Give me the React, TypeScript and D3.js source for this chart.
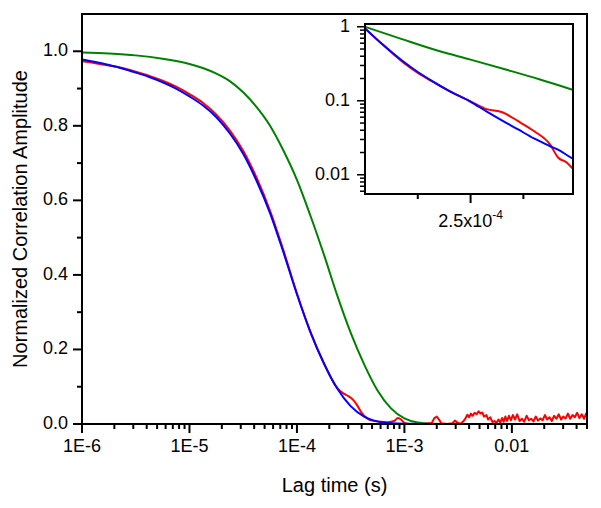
import React from "react";
import * as d3 from "d3";

// ---- Main plot data (lag time in s, normalized amplitude) ----
const blueT = [1e-6, 1.33e-6, 1.78e-6, 2.37e-6, 3.16e-6, 4.22e-6, 5.62e-6, 7.5e-6, 1e-5, 1.33e-5, 1.78e-5, 2.37e-5, 3.16e-5, 4.22e-5, 5.62e-5, 7.5e-5, 1e-4, 1.33e-4, 1.78e-4, 2.37e-4, 3.16e-4, 4.22e-4, 5.62e-4, 7.5e-4, 1e-3, 1.78e-3, 0.05];
const blueV = [0.978, 0.971, 0.963, 0.954, 0.943, 0.931, 0.917, 0.9, 0.879, 0.855, 0.823, 0.78, 0.725, 0.652, 0.566, 0.46, 0.348, 0.248, 0.163, 0.095, 0.048, 0.02, 0.007, 0.002, 0.0005, 0, 0];

const greenT = [1e-6, 1.78e-6, 3.16e-6, 5.62e-6, 1e-5, 1.33e-5, 1.78e-5, 2.37e-5, 3.16e-5, 4.22e-5, 5.62e-5, 7.5e-5, 1e-4, 1.33e-4, 1.78e-4, 2.37e-4, 3.16e-4, 4.22e-4, 5.62e-4, 7.5e-4, 1e-3, 1.33e-3, 1.78e-3, 3.16e-3, 0.05];
const greenV = [0.997, 0.994, 0.989, 0.98, 0.966, 0.955, 0.94, 0.92, 0.89, 0.85, 0.8, 0.733, 0.655, 0.56, 0.455, 0.345, 0.245, 0.16, 0.09, 0.042, 0.015, 0.004, 0.001, 0, 0];

const redT = [
  1e-6, 1.33e-6, 1.78e-6, 2.37e-6, 3.16e-6, 4.22e-6, 5.62e-6, 7.5e-6, 1e-5, 1.33e-5, 1.78e-5, 2.37e-5, 3.16e-5, 4.22e-5, 5.62e-5, 7.5e-5, 1e-4, 1.33e-4, 1.78e-4, 2.37e-4,
  2.7e-4, 3.0e-4, 3.3e-4, 3.6e-4, 4.0e-4, 4.5e-4, 5e-4, 6e-4, 7e-4, 8e-4, 8.7e-4, 9.3e-4, 1.0e-3, 1.1e-3,
  1.2e-3, 1.5e-3, 1.8e-3, 1.9e-3, 2.0e-3, 2.1e-3, 2.2e-3, 2.5e-3, 2.8e-3, 2.95e-3, 3.1e-3, 3.3e-3, 3.5e-3, 3.7e-3, 3.85e-3, 4.0e-3, 4.15e-3, 4.3e-3,
  4.5e-3, 4.7e-3, 4.9e-3, 5.1e-3, 5.3e-3, 5.5e-3, 5.8e-3, 6.0e-3, 6.3e-3, 6.6e-3, 6.9e-3, 7.2e-3, 7.5e-3, 7.8e-3, 8.1e-3, 8.4e-3, 8.7e-3,
  9.0e-3, 9.4e-3, 9.8e-3, 0.0102, 0.0107, 0.0112, 0.0118, 0.0124, 0.013, 0.0137, 0.0144, 0.0151, 0.0159, 0.0167, 0.0175, 0.0184, 0.0193,
  0.0203, 0.0213, 0.0224, 0.0235, 0.0247, 0.026, 0.0273, 0.0287, 0.0301, 0.0316, 0.0332, 0.0349, 0.0367, 0.0385, 0.0405, 0.0425, 0.0447, 0.047, 0.049, 0.05,
];
const redV = [
  0.973, 0.968, 0.962, 0.955, 0.945, 0.934, 0.921, 0.905, 0.885, 0.862, 0.83, 0.788, 0.733, 0.66, 0.572, 0.465, 0.35, 0.248, 0.163, 0.097,
  0.082, 0.075, 0.066, 0.052, 0.03, 0.015, 0.009, 0.006, 0.005, 0.008, 0.016, 0.012, 0.003, 0.0,
  0.0, 0.0, 0.003, 0.016, 0.02, 0.012, 0.002, 0.0, 0.002, 0.009, 0.004, 0.0, 0.006, 0.015, 0.025, 0.018, 0.028, 0.022,
  0.03, 0.026, 0.034, 0.028, 0.031, 0.02, 0.024, 0.012, 0.018, 0.005, 0.008, 0.003, 0.012, 0.004, 0.016, 0.006, 0.02,
  0.008, 0.022, 0.01, 0.024, 0.012, 0.026, 0.008, 0.014, 0.006, 0.022, 0.01, 0.014, 0.007, 0.02, 0.009, 0.015, 0.01,
  0.024, 0.012, 0.018, 0.008, 0.022, 0.014, 0.026, 0.012, 0.02, 0.015, 0.028, 0.014, 0.024, 0.018, 0.03, 0.016, 0.026, 0.014, 0.028, 0.02,
];
const redSmoothEnd = 1.1e-3; // beyond this the measured trace is noisy

// ---- Inset data (semi-log) ----
const insetBlueT = [1.5e-4, 1.67e-4, 1.85e-4, 2.0e-4, 2.15e-4, 2.3e-4, 2.5e-4, 2.65e-4, 2.8e-4, 2.95e-4, 3.1e-4, 3.25e-4, 3.35e-4, 3.41e-4, 3.465e-4];
const insetBlueV = [0.95, 0.57, 0.35, 0.245, 0.18, 0.135, 0.097, 0.072, 0.054, 0.041, 0.031, 0.0245, 0.021, 0.0185, 0.0166];
const insetRedT = [1.5e-4, 1.67e-4, 1.85e-4, 2.0e-4, 2.15e-4, 2.3e-4, 2.5e-4, 2.65e-4, 2.8e-4, 2.95e-4, 3.1e-4, 3.25e-4, 3.33e-4, 3.41e-4, 3.465e-4];
const insetRedV = [0.95, 0.57, 0.34, 0.238, 0.178, 0.135, 0.098, 0.077, 0.07, 0.053, 0.039, 0.026, 0.017, 0.0147, 0.0122];
const insetGreenT = [1.5e-4, 1.85e-4, 2.2e-4, 2.5e-4, 2.85e-4, 3.15e-4, 3.465e-4];
const insetGreenV = [1.0, 0.68, 0.47, 0.36, 0.26, 0.195, 0.141];

// ---- Ticks / labels ----
const xMajorTicks = [1e-6, 1e-5, 1e-4, 1e-3, 1e-2];
const xTickLabels = ["1E-6", "1E-5", "1E-4", "1E-3", "0.01"];
const yMajorTicks = [0, 0.2, 0.4, 0.6, 0.8, 1.0];
const yTickLabels = ["0.0", "0.2", "0.4", "0.6", "0.8", "1.0"];
const yMinorTicks = [0.1, 0.3, 0.5, 0.7, 0.9];
const insetYMajor = [1, 0.1, 0.01];
const insetYLabels = ["1", "0.1", "0.01"];
const insetXMajor = [2.5e-4];
const insetXMinor = [2.0e-4, 3.0e-4];

const FONT = "'Liberation Sans', Arial, sans-serif";

export default function App() {
  const x = d3.scaleLog().domain([1e-6, 0.05]).range([82, 587]);
  const y = d3.scaleLinear().domain([0, 1.1]).range([424, 14]);

  const xi = d3.scaleLinear().domain([1.5e-4, 3.47e-4]).range([365, 573]);
  const yi = d3.scaleLog().domain([0.0055, 1.09]).range([194, 24]);

  const xMinor: number[] = [];
  for (let e = -6; e <= -2; e++) {
    for (let k = 2; k <= 9; k++) {
      const v = k * Math.pow(10, e);
      if (v <= 0.05 + 1e-12) xMinor.push(v);
    }
  }
  const yiMinor: number[] = [];
  for (let e = -3; e <= -1; e++) {
    for (let k = 2; k <= 9; k++) {
      const v = k * Math.pow(10, e);
      if (v >= 0.0055 && v <= 1.09) yiMinor.push(v);
    }
  }

  const mk = (T: number[], V: number[]) => T.map((t, i) => [t, V[i]] as [number, number]);
  const mainLine = d3
    .line<[number, number]>()
    .x((d) => x(d[0]))
    .y((d) => y(d[1]))
    .curve(d3.curveMonotoneX);
  const mainLinear = d3
    .line<[number, number]>()
    .x((d) => x(d[0]))
    .y((d) => y(d[1]));
  const insetLine = d3
    .line<[number, number]>()
    .x((d) => xi(d[0]))
    .y((d) => yi(d[1]))
    .curve(d3.curveMonotoneX);

  const redAll = mk(redT, redV);
  const redSmooth = redAll.filter((d) => d[0] <= redSmoothEnd);
  const redNoise = redAll.filter((d) => d[0] >= redSmoothEnd);

  return (
    <svg
      width={601}
      height={508}
      style={{ position: "absolute", left: 0, top: 0, background: "#fff" }}
      fontFamily={FONT}
    >
      <defs>
        <clipPath id="mainClip">
          <rect x={82} y={14} width={505} height={410} />
        </clipPath>
        <clipPath id="insetClip">
          <rect x={365} y={24} width={208} height={170} />
        </clipPath>
      </defs>
      <rect x={0} y={0} width={601} height={508} fill="#fff" />

      {/* main curves */}
      <g clipPath="url(#mainClip)" fill="none" strokeWidth={2} strokeLinejoin="round">
        <path d={mainLine(mk(greenT, greenV)) || ""} stroke="#008000" />
        <path d={mainLine(redSmooth) || ""} stroke="#ff0000" />
        <path d={mainLinear(redNoise) || ""} stroke="#ff0000" />
        <path d={mainLine(mk(blueT, blueV)) || ""} stroke="#0000ff" />
      </g>

      {/* main frame */}
      <rect x={82} y={14} width={505} height={410} fill="none" stroke="#000" strokeWidth={2} />

      {/* x ticks */}
      {xMajorTicks.map((t, i) => (
        <g key={"xm" + i}>
          <line x1={x(t)} x2={x(t)} y1={424} y2={433} stroke="#000" strokeWidth={2} />
          <text x={x(t)} y={452} fontSize={18} textAnchor="middle" fill="#000">
            {xTickLabels[i]}
          </text>
        </g>
      ))}
      {xMinor.map((t, i) => (
        <line key={"xn" + i} x1={x(t)} x2={x(t)} y1={424} y2={429} stroke="#000" strokeWidth={2} />
      ))}

      {/* y ticks */}
      {yMajorTicks.map((v, i) => (
        <g key={"ym" + i}>
          <line x1={73} x2={82} y1={y(v)} y2={y(v)} stroke="#000" strokeWidth={2} />
          <text x={68} y={y(v) + 5} fontSize={18} textAnchor="end" fill="#000">
            {yTickLabels[i]}
          </text>
        </g>
      ))}
      {yMinorTicks.map((v, i) => (
        <line key={"yn" + i} x1={77} x2={82} y1={y(v)} y2={y(v)} stroke="#000" strokeWidth={2} />
      ))}

      {/* axis titles */}
      <text x={334.5} y={492} fontSize={20} textAnchor="middle" fill="#000">
        Lag time (s)
      </text>
      <text
        transform={`translate(27, 219) rotate(-90)`}
        fontSize={20}
        textAnchor="middle"
        fill="#000"
      >
        Normalized Correlation Amplitude
      </text>

      {/* inset */}
      <rect x={365} y={24} width={208} height={170} fill="#fff" />
      <g clipPath="url(#insetClip)" fill="none" strokeWidth={2}>
        <path d={insetLine(mk(insetGreenT, insetGreenV)) || ""} stroke="#008000" />
        <path d={insetLine(mk(insetRedT, insetRedV)) || ""} stroke="#ff0000" />
        <path d={insetLine(mk(insetBlueT, insetBlueV)) || ""} stroke="#0000ff" />
      </g>
      <rect x={365} y={24} width={208} height={170} fill="none" stroke="#000" strokeWidth={2} />

      {insetYMajor.map((v, i) => (
        <g key={"iym" + i}>
          <line x1={357} x2={365} y1={yi(v)} y2={yi(v)} stroke="#000" strokeWidth={1.5} />
          <text x={350} y={yi(v) + 5.5} fontSize={18} textAnchor="end" fill="#000">
            {insetYLabels[i]}
          </text>
        </g>
      ))}
      {yiMinor.map((v, i) => (
        <line key={"iyn" + i} x1={360} x2={365} y1={yi(v)} y2={yi(v)} stroke="#000" strokeWidth={1.5} />
      ))}
      {insetXMajor.map((t, i) => (
        <g key={"ixm" + i}>
          <line x1={xi(t)} x2={xi(t)} y1={194} y2={203} stroke="#000" strokeWidth={2} />
          <text x={xi(t)} y={227} fontSize={18} textAnchor="middle" fill="#000">
            2.5x10
            <tspan dy={-8} fontSize={12}>-4</tspan>
          </text>
        </g>
      ))}
      {insetXMinor.map((t, i) => (
        <line key={"ixn" + i} x1={xi(t)} x2={xi(t)} y1={194} y2={199} stroke="#000" strokeWidth={2} />
      ))}
    </svg>
  );
}
